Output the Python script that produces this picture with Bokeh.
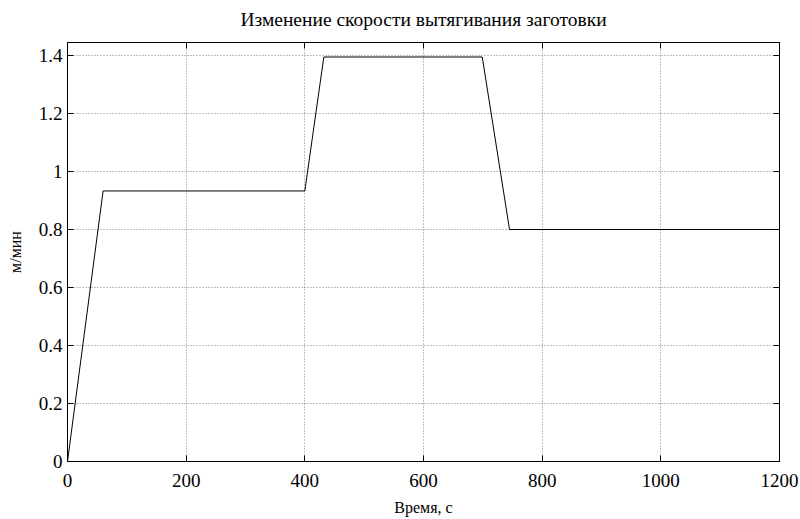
from bokeh.plotting import figure
from bokeh.models import LinearAxis, FixedTicker, CustomJSTickFormatter, Range1d
from bokeh.embed import file_html
from bokeh.resources import INLINE

# data
time_s = [0, 60, 400, 432, 699, 745, 1200]
speed = [0, 0.933, 0.933, 1.395, 1.395, 0.80, 0.80]
x_ticks = [0, 200, 400, 600, 800, 1000, 1200]
y_ticks = [0, 0.2, 0.4, 0.6, 0.8, 1.0, 1.2, 1.4]
title_text = "Изменение скорости вытягивания заготовки"

FONT = "Liberation Serif"

p = figure(width=800, height=519, output_backend="svg", toolbar_location=None,
           x_range=Range1d(0, 1200), y_range=Range1d(0, 1.445),
           min_border_left=67, min_border_right=21, min_border_top=42, min_border_bottom=58)
p.title = None

p.line(time_s, speed, line_color="black", line_width=1)

fmt = CustomJSTickFormatter(code="return (Math.round(tick*10)/10).toString();")
blank = CustomJSTickFormatter(code="return '';")

for ax, ticks in ((p.xaxis[0], x_ticks), (p.yaxis[0], y_ticks)):
    ax.ticker = FixedTicker(ticks=ticks)
    ax.formatter = fmt
    ax.major_tick_in = 6
    ax.major_tick_out = 0
    ax.minor_tick_line_color = None
    ax.axis_line_color = "black"
    ax.major_tick_line_color = "black"
    ax.major_label_text_font = FONT
    ax.major_label_text_font_size = "19px"
    ax.major_label_text_color = "black"
    ax.axis_label_text_font = FONT
    ax.axis_label_text_font_size = "16px"
    ax.axis_label_text_font_style = "normal"
    ax.axis_label_text_color = "black"

p.xaxis[0].axis_label = "Время, с"
p.xaxis[0].major_label_standoff = 12
p.xaxis[0].axis_label_standoff = 9
p.yaxis[0].axis_label = "м/мин"
p.yaxis[0].major_label_standoff = 5
p.yaxis[0].axis_label_standoff = 12

for loc, ticks in (("right", y_ticks), ("above", x_ticks)):
    ax = LinearAxis(ticker=FixedTicker(ticks=ticks), formatter=blank)
    ax.major_tick_in = 6
    ax.major_tick_out = 0
    ax.minor_tick_line_color = None
    ax.major_label_text_font_size = "1px"
    ax.axis_line_color = "black"
    ax.major_label_standoff = 0
    if loc == "above":
        ax.axis_label = title_text
        ax.axis_label_text_font = FONT
        ax.axis_label_text_font_size = "19.5px"
        ax.axis_label_text_font_style = "normal"
        ax.axis_label_text_color = "black"
        ax.axis_label_standoff = 13
    p.add_layout(ax, loc)

for g, ticks in ((p.xgrid[0], x_ticks), (p.ygrid[0], y_ticks)):
    g.ticker = FixedTicker(ticks=ticks)
    g.grid_line_color = "#808080"
    g.grid_line_dash = "1 2"
    g.grid_line_width = 1

p.outline_line_color = "black"
p.outline_line_width = 1
p.background_fill_color = "white"
p.border_fill_color = "white"

open("out.html", "w").write(file_html(p, INLINE))
